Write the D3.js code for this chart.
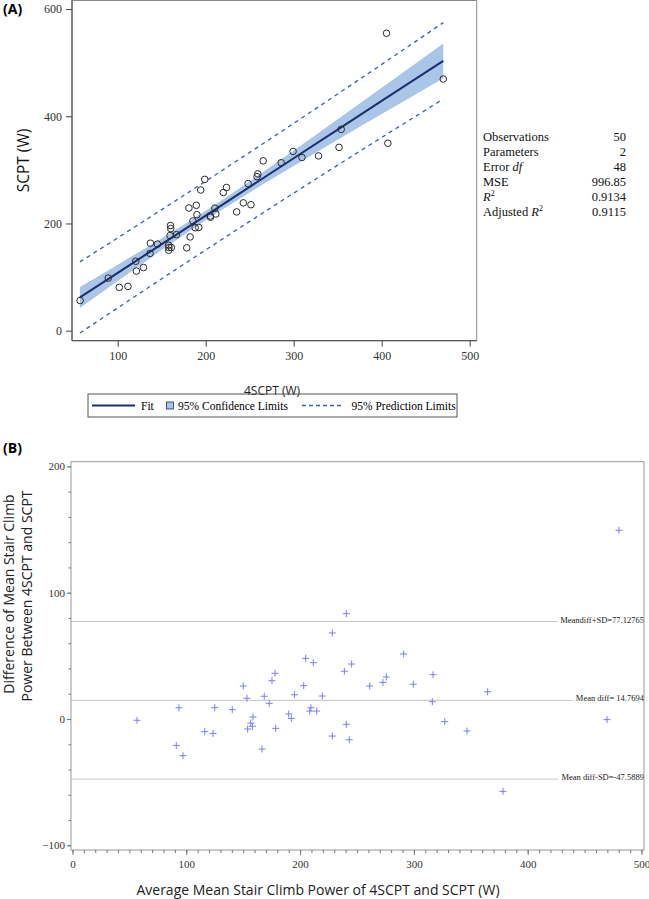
<!DOCTYPE html>
<html>
<head>
<meta charset="utf-8">
<script src="https://cdn.jsdelivr.net/npm/d3@7"></script>
<style>
    body { margin: 0; background: #fff; }
</style>
</head>
<body>
<svg id="chart" width="649" height="899"></svg>
<script>
// panel A: 4SCPT (x) against SCPT (y), watts
const scpt4 = [57.2, 89.2, 101.7, 111.6, 121.2, 129.2, 120.5, 136.7, 137.1, 145.1,
    157.9, 158.2, 160.9, 157.8, 178.4, 159.5, 166.7, 160.2, 159.9, 182.3,
    188.0, 192.1, 185.4, 190.0, 180.9, 189.3, 205.1, 205.4, 211.5, 210.4,
    235.1, 194.3, 220.0, 242.7, 251.4, 223.6, 198.9, 248.2, 258.3, 259.2,
    265.3, 285.8, 299.3, 309.4, 328.2, 351.5, 354.0, 407.0, 470.0, 405.5];
const scpt = [56.2, 98.1, 80.8, 82.6, 111.2, 117.8, 129.5, 144.1, 163.2, 161.5,
    150.0, 155.0, 155.1, 159.4, 154.6, 177.5, 179.1, 190.5, 196.1, 174.9,
    192.0, 192.6, 204.6, 216.4, 228.9, 233.9, 214.0, 211.7, 217.8, 228.6,
    221.6, 262.4, 257.8, 238.5, 235.0, 267.1, 282.3, 274.3, 287.3, 292.5,
    316.8, 313.3, 334.4, 323.1, 326.1, 342.0, 375.6, 349.7, 469.5, 554.9];

// fit line and limits at these x values
const bandX = [57, 100, 150, 200, 250, 300, 350, 400, 470];
const fitY = [62.0, 107.9, 161.4, 214.8, 268.3, 321.7, 375.2, 428.6, 503.4];
const clmLower = [42.5, 92.7, 150.3, 205.8, 257.9, 307.4, 356.0, 404.1, 471.1];
const clmUpper = [81.5, 123.1, 172.5, 223.8, 278.7, 336.0, 394.4, 453.1, 535.7];
const pLower = [-4.4, 42.6, 96.9, 150.7, 203.9, 256.6, 308.8, 360.4, 432.1];
const pUpper = [128.4, 173.2, 225.9, 278.9, 332.7, 386.8, 441.6, 496.8, 574.7];

const ticksAx = [100, 200, 300, 400, 500];
const ticksAy = [0, 200, 400, 600];

const statLabels = ['Observations', 'Parameters', 'Error df', 'MSE', 'R2', 'Adjusted R2'];
const statValues = ['50', '2', '48', '996.85', '0.9134', '0.9115'];

// panel B: Bland-Altman, average vs difference
const avgPower = [56.7, 93.6, 91.2, 97.1, 116.2, 123.5, 125.0, 140.4, 150.1, 153.3,
    153.9, 156.6, 158.0, 158.6, 166.5, 168.5, 172.9, 175.3, 178.0, 178.6,
    190.0, 192.3, 195.0, 203.2, 204.9, 211.6, 209.5, 208.5, 214.6, 219.5,
    228.3, 228.3, 238.9, 240.6, 243.2, 245.3, 240.6, 261.2, 272.8, 275.8,
    291.0, 299.5, 316.8, 316.2, 327.1, 346.7, 364.8, 378.3, 469.7, 480.2];
const diffPower = [-1.0, 8.9, -20.9, -29.0, -10.0, -11.4, 9.0, 7.4, 26.1, 16.4,
    -7.9, -3.2, -5.8, 1.6, -23.8, 18.0, 12.4, 30.3, 36.2, -7.4,
    4.0, 0.5, 19.2, 26.4, 48.0, 44.6, 8.9, 6.3, 6.3, 18.2,
    -13.5, 68.1, 37.8, -4.2, -16.4, 43.5, 83.4, 26.1, 29.0, 33.3,
    51.5, 27.5, 35.1, 13.7, -2.1, -9.5, 21.6, -57.3, -0.5, 149.4];

const refValues = [77.12765, 14.7694, -47.5889];
const refLabels = ['Meandiff+SD=77.12765', 'Mean diff= 14.7694', 'Mean diff-SD=-47.5889'];

const ticksBx = [0, 100, 200, 300, 400, 500];
const ticksBy = [-100, 0, 100, 200];

const serif = '"Liberation Serif", "Times New Roman", serif';
const sans = '"Open Sans", "DejaVu Sans", sans-serif';

const svg = d3.select('#chart');

// ---------- panel A ----------
const xA = d3.scaleLinear().domain([48, 508]).range([72, 476.7]);
const yA = d3.scaleLinear().domain([-18.7, 616]).range([340.7, 0.5]);

let bandData = bandX.map((x, i) => ({
    x: x, fit: fitY[i], lo: clmLower[i], hi: clmUpper[i], plo: pLower[i], phi: pUpper[i]
}));

// confidence band
let area = d3.area()
    .x(d => xA(d.x))
    .y0(d => yA(d.lo))
    .y1(d => yA(d.hi))
    .curve(d3.curveMonotoneX);

svg.append('path')
    .attr('d', area(bandData))
    .attr('fill', '#a9c5e8');

// prediction limits
['plo', 'phi'].forEach(k => {
    let line = d3.line()
        .x(d => xA(d.x))
        .y(d => yA(d[k]))
        .curve(d3.curveMonotoneX);
    svg.append('path')
        .attr('d', line(bandData))
        .attr('fill', 'none')
        .attr('stroke', '#3f5ca8')
        .attr('stroke-width', 1.3)
        .attr('stroke-dasharray', '4,4');
});

// fit line
let fitLine = d3.line()
    .x(d => xA(d.x))
    .y(d => yA(d.fit));

svg.append('path')
    .attr('d', fitLine(bandData))
    .attr('fill', 'none')
    .attr('stroke', '#1a2f6e')
    .attr('stroke-width', 2);

// observations
svg.append('g')
    .selectAll('circle')
    .data(scpt4)
    .enter()
    .append('circle')
    .attr('cx', d => xA(d))
    .attr('cy', (d, i) => yA(scpt[i]))
    .attr('r', 3.3)
    .attr('fill', 'none')
    .attr('stroke', '#2b2b2b')
    .attr('stroke-width', 1);

// frame
svg.append('rect')
    .attr('x', 72)
    .attr('y', 0.5)
    .attr('width', 476.7 - 72)
    .attr('height', 340.2)
    .attr('fill', 'none')
    .attr('stroke', '#8a8a8a')
    .attr('stroke-width', 1);

svg.append('line')
    .attr('x1', 72).attr('x2', 72)
    .attr('y1', 0.5).attr('y2', 340.7)
    .attr('stroke', '#444');
svg.append('line')
    .attr('x1', 72).attr('x2', 476.7)
    .attr('y1', 340.7).attr('y2', 340.7)
    .attr('stroke', '#444');

// axes
let axA = svg.append('g')
    .attr('transform', 'translate(0,340.7)')
    .call(d3.axisBottom(xA).tickValues(ticksAx).tickSize(6).tickPadding(5));
let ayA = svg.append('g')
    .attr('transform', 'translate(72,0)')
    .call(d3.axisLeft(yA).tickValues(ticksAy).tickSize(6).tickPadding(4));

[axA, ayA].forEach(g => {
    g.select('.domain').remove();
    g.selectAll('line').attr('stroke', '#444');
    g.selectAll('text')
        .style('font-family', serif)
        .style('font-size', '12px')
        .attr('fill', '#333');
});

svg.append('text')
    .attr('x', 272)
    .attr('y', 395)
    .attr('text-anchor', 'middle')
    .style('font-family', sans)
    .style('font-size', '12px')
    .attr('fill', '#222')
    .text('4SCPT (W)');

svg.append('text')
    .attr('transform', 'translate(29,160.5) rotate(-90)')
    .attr('text-anchor', 'middle')
    .style('font-family', sans)
    .style('font-size', '15.5px')
    .attr('fill', '#111')
    .text('SCPT (W)');

svg.append('text')
    .attr('x', 3)
    .attr('y', 14)
    .style('font-family', sans)
    .attr('font-weight', 'bold')
    .style('font-size', '14px')
    .text('(A)');

// fit statistics table
let stats = svg.append('g')
    .style('font-family', serif)
    .style('font-size', '12.5px')
    .attr('fill', '#111');

statLabels.forEach((lab, i) => {
    let yy = 140.5 + i * 15;
    let t = stats.append('text').attr('x', 483).attr('y', yy);
    if (lab === 'Error df') {
        t.append('tspan').text('Error ');
        t.append('tspan').attr('font-style', 'italic').text('df');
    } else if (lab.endsWith('R2')) {
        t.append('tspan').text(lab.slice(0, -2));
        t.append('tspan').attr('font-style', 'italic').text('R');
        t.append('tspan').style('font-size', '8px').attr('dy', -5).text('2');
    } else {
        t.text(lab);
    }
    stats.append('text')
        .attr('x', 626)
        .attr('y', yy)
        .attr('text-anchor', 'end')
        .text(statValues[i]);
});

// legend
let leg = svg.append('g').style('font-family', serif).style('font-size', '11.5px');
leg.append('rect')
    .attr('x', 88).attr('y', 394)
    .attr('width', 369).attr('height', 23)
    .attr('fill', 'none')
    .attr('stroke', '#555');
leg.append('line')
    .attr('x1', 92).attr('x2', 135)
    .attr('y1', 405.5).attr('y2', 405.5)
    .attr('stroke', '#1a2f6e')
    .attr('stroke-width', 2);
leg.append('text').attr('x', 141).attr('y', 409.5).text('Fit');
leg.append('rect')
    .attr('x', 166.5).attr('y', 402)
    .attr('width', 7).attr('height', 7)
    .attr('fill', '#a9c5e8')
    .attr('stroke', '#1a2f6e')
    .attr('stroke-width', 0.8);
leg.append('text').attr('x', 178).attr('y', 409.5).text('95% Confidence Limits');
leg.append('line')
    .attr('x1', 302).attr('x2', 342)
    .attr('y1', 405.5).attr('y2', 405.5)
    .attr('stroke', '#3f5ca8')
    .attr('stroke-width', 1.3)
    .attr('stroke-dasharray', '4,3');
leg.append('text').attr('x', 351.5).attr('y', 409.5).text('95% Prediction Limits');

// ---------- panel B ----------
const xB = d3.scaleLinear().domain([-1.3, 502.2]).range([71, 644]);
const yB = d3.scaleLinear().domain([-103.7, 203.7]).range([850, 461.7]);

// reference lines with labels
refValues.forEach((v, i) => {
    let lbl = svg.append('text')
        .attr('x', 644)
        .attr('y', yB(v) + 1)
        .attr('text-anchor', 'end')
        .style('font-family', serif)
        .style('font-size', '8.5px')
        .attr('fill', '#222')
        .text(refLabels[i]);
    let w = lbl.node().getComputedTextLength();
    svg.append('line')
        .attr('x1', 71).attr('x2', 644 - w - 3)
        .attr('y1', yB(v)).attr('y2', yB(v))
        .attr('stroke', '#c4c4c4')
        .attr('stroke-width', 1);
});

// plus markers
svg.append('g')
    .selectAll('path')
    .data(avgPower)
    .enter()
    .append('path')
    .attr('d', (d, i) => {
        let cx = xB(d), cy = yB(diffPower[i]);
        return `M${cx - 3.5},${cy}H${cx + 3.5}M${cx},${cy - 3.5}V${cy + 3.5}`;
    })
    .attr('stroke', '#7d7df2')
    .attr('stroke-width', 1)
    .attr('fill', 'none');

svg.append('rect')
    .attr('x', 71).attr('y', 461.7)
    .attr('width', 644 - 71).attr('height', 850 - 461.7)
    .attr('fill', 'none')
    .attr('stroke', '#999')
    .attr('stroke-width', 1);

// minor ticks
let axBminor = svg.append('g')
    .attr('transform', 'translate(0,850)')
    .call(d3.axisBottom(xB).tickValues(d3.range(0, 501, 10)).tickSize(3).tickFormat(''));
let ayBminor = svg.append('g')
    .attr('transform', 'translate(71,0)')
    .call(d3.axisLeft(yB).tickValues(d3.range(-100, 201, 20)).tickSize(2.5).tickFormat(''));

let axB = svg.append('g')
    .attr('transform', 'translate(0,850)')
    .call(d3.axisBottom(xB).tickValues(ticksBx).tickSize(5).tickPadding(5));
let ayB = svg.append('g')
    .attr('transform', 'translate(71,0)')
    .call(d3.axisLeft(yB).tickValues(ticksBy).tickSize(4).tickPadding(2));

[axBminor, ayBminor, axB, ayB].forEach(g => {
    g.select('.domain').remove();
    g.selectAll('line').attr('stroke', '#777');
    g.selectAll('text')
        .style('font-family', serif)
        .style('font-size', '11px')
        .attr('fill', '#333');
});

svg.append('text')
    .attr('x', 318)
    .attr('y', 895)
    .attr('text-anchor', 'middle')
    .style('font-family', sans)
    .style('font-size', '14px')
    .attr('fill', '#222')
    .text('Average Mean Stair Climb Power of 4SCPT and SCPT (W)');

svg.append('text')
    .attr('transform', 'translate(14,594) rotate(-90)')
    .attr('text-anchor', 'middle')
    .style('font-family', sans)
    .style('font-size', '14px')
    .attr('fill', '#222')
    .text('Difference of Mean Stair Climb');
svg.append('text')
    .attr('transform', 'translate(32,596) rotate(-90)')
    .attr('text-anchor', 'middle')
    .style('font-family', sans)
    .style('font-size', '14px')
    .attr('fill', '#222')
    .text('Power Between 4SCPT and SCPT');

svg.append('text')
    .attr('x', 3)
    .attr('y', 453)
    .style('font-family', sans)
    .attr('font-weight', 'bold')
    .style('font-size', '14px')
    .text('(B)');
</script>
</body>
</html>
